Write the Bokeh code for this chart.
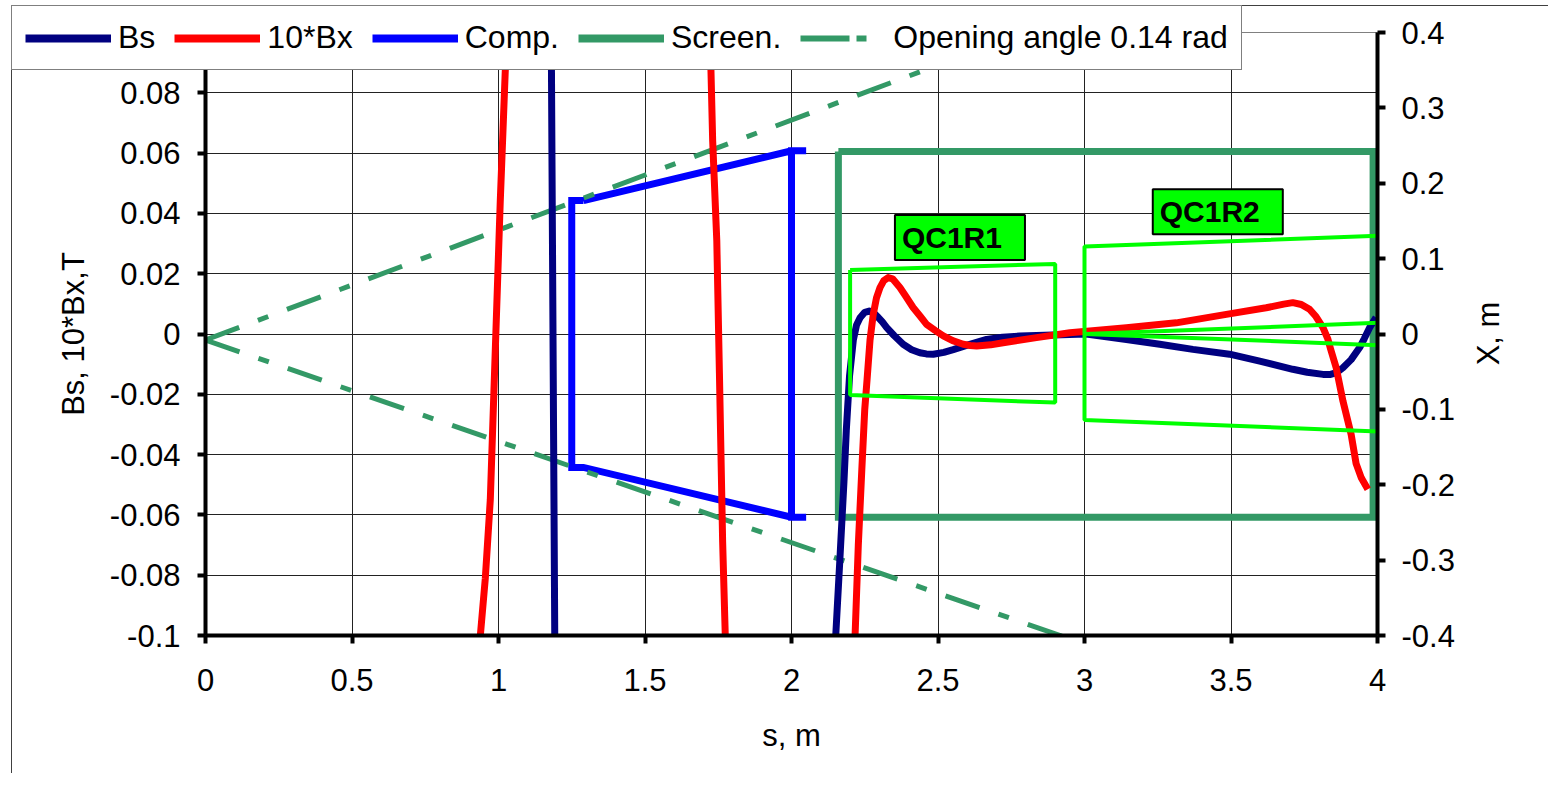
import math
from bokeh.plotting import figure
from bokeh.layouts import column
from bokeh.models import (Range1d, LinearAxis, FixedTicker, Legend, LegendItem, Label, Div)
from bokeh.embed import file_html
from bokeh.resources import INLINE

FONT = "Liberation Sans"

# ---------------- data ----------------
# Bs [T] along s [m]
bs_s = [0.0, 1.10, 1.180, 1.192, 1.27, 2.08, 2.151, 2.165, 2.179, 2.187, 2.198, 2.211,
        2.222, 2.234, 2.250, 2.265, 2.280, 2.295, 2.310, 2.325, 2.350, 2.381, 2.410,
        2.438, 2.460, 2.484, 2.520, 2.552, 2.600, 2.666, 2.720, 2.779, 2.892, 3.006,
        3.143, 3.257, 3.370, 3.495, 3.598, 3.711, 3.760, 3.814, 3.840, 3.860, 3.882,
        3.910, 3.939, 3.955, 3.973, 3.995]
bs_v = [0.30, 0.30, 0.10, -0.10, -0.30, -0.30, -0.10, -0.075, -0.049, -0.032, -0.014,
        -0.002, 0.0030, 0.0054, 0.0072, 0.0076, 0.0070, 0.0056, 0.0040, 0.0021, -0.0005,
        -0.0034, -0.0052, -0.0062, -0.0066, -0.0067, -0.0061, -0.0052, -0.0037, -0.0018,
        -0.0011, -0.0007, -0.0003, 0.0, -0.0018, -0.0034, -0.0051, -0.0067, -0.0090,
        -0.0117, -0.0127, -0.0134, -0.0134, -0.0128, -0.0112, -0.0085, -0.0045, -0.0015,
        0.0021, 0.0055]

# 10*Bx [T] along s [m]
bx_s = [0.0, 0.90, 0.938, 0.955, 0.972, 1.006, 1.023, 1.030, 1.10, 1.65, 1.722, 1.731,
        1.745, 1.754, 1.765, 1.774, 1.85, 2.15, 2.217, 2.228, 2.240, 2.250, 2.258, 2.268,
        2.279, 2.290, 2.302, 2.315, 2.330, 2.345, 2.370, 2.390, 2.415, 2.440, 2.461,
        2.490, 2.518, 2.550, 2.586, 2.610, 2.632, 2.680, 2.722, 2.836, 2.950, 3.143,
        3.313, 3.484, 3.620, 3.680, 3.711, 3.740, 3.768, 3.790, 3.814, 3.830, 3.840,
        3.859, 3.882, 3.910, 3.927, 3.945, 3.967]
bx_v = [-0.30, -0.30, -0.10, -0.081, -0.055, 0.044, 0.087, 0.10, 0.30, 0.30, 0.10, 0.064,
        0.031, -0.013, -0.069, -0.10, -0.30, -0.30, -0.10, -0.070, -0.045, -0.025, -0.015,
        -0.002, 0.0065, 0.0120, 0.0154, 0.0177, 0.0187, 0.0183, 0.0154, 0.0125, 0.0088,
        0.0058, 0.0032, 0.0012, -0.0006, -0.0022, -0.0034, -0.0038, -0.0040, -0.0036,
        -0.0029, -0.0012, 0.0004, 0.0021, 0.0037, 0.0065, 0.0087, 0.0099, 0.0104, 0.0098,
        0.0082, 0.0058, 0.0021, -0.0015, -0.0050, -0.0112, -0.0222, -0.0333, -0.0430,
        -0.0478, -0.0515]

# Compensating solenoid outline, X [m]
comp_s = [1.29, 1.25, 1.25, 1.29, 2.00, 2.05, 2.00, 2.00, 2.05, 2.00, 1.29]
comp_x = [0.177, 0.177, -0.177, -0.177, -0.243, -0.243, -0.243, 0.243, 0.243, 0.243, 0.177]

# Screen outline, X [m]
scr_s = [2.16, 3.985, 3.985, 2.16, 2.16]
scr_x = [0.242, 0.242, -0.243, -0.243, 0.242]

# Opening angle 0.14 rad lines, X [m]
open_s = [0.0, 3.2]
open_up = [-0.008, 0.459]
open_dn = [-0.008, -0.438]

# Quadrupole outlines, X [m]
qc1_s = [2.2, 2.9, 2.9, 2.2, 2.2]
qc1_x = [0.085, 0.093, -0.091, -0.081, 0.085]
qc2_s = [4.05, 3.0, 3.0, 4.05]
qc2_x = [0.131, 0.116, -0.114, -0.130]
qc2_in_s = [3.0, 4.05]
qc2_in_up = [0.0, 0.0155]
qc2_in_dn = [0.0, -0.0155]

# ticks / labels
s_ticks = [0, 0.5, 1, 1.5, 2, 2.5, 3, 3.5, 4]
s_labels = ["0", "0.5", "1", "1.5", "2", "2.5", "3", "3.5", "4"]
left_ticks = [-0.1, -0.08, -0.06, -0.04, -0.02, 0, 0.02, 0.04, 0.06, 0.08, 0.1]
left_labels = ["-0.1", "-0.08", "-0.06", "-0.04", "-0.02", "0", "0.02", "0.04", "0.06",
               "0.08", "0.1"]
right_ticks = [-0.4, -0.3, -0.2, -0.1, 0, 0.1, 0.2, 0.3, 0.4]
right_labels = ["-0.4", "-0.3", "-0.2", "-0.1", "0", "0.1", "0.2", "0.3", "0.4"]

series_names = ["Bs", "10*Bx", "Comp.", "Screen.", "Opening angle 0.14 rad"]

# series styles
STY_BS = dict(line_color="#000080", line_width=7, line_join="round")
STY_BX = dict(line_color="#FF0000", line_width=7, line_join="round")
STY_COMP = dict(line_color="#0000FF", line_width=7, line_join="miter")
STY_SCR = dict(line_color="#339966", line_width=7, line_join="miter")
STY_OPEN = dict(line_color="#339966", line_width=5, line_dash="36 20 11 20")


def no_align(fig):
    if "frame_align" in fig.properties():
        try:
            fig.frame_align = False
        except Exception:
            pass


# ---------------- main figure ----------------
p = figure(frame_width=1172, frame_height=603,
           min_border_left=205, min_border_right=171, min_border_top=32,
           min_border_bottom=138,
           x_range=Range1d(0, 4), y_range=Range1d(-0.1, 0.1),
           output_backend="svg", toolbar_location=None)
p.extra_y_ranges = {"xr": Range1d(-0.4, 0.4)}
p.background_fill_color = "white"
p.border_fill_color = "white"
p.outline_line_color = "#808080"
p.outline_line_width = 1
no_align(p)

def style_axis(ax):
    ax.axis_line_color = "black"
    ax.axis_line_width = 4
    ax.major_tick_line_color = "black"
    ax.major_tick_line_width = 4
    ax.major_tick_out = 8
    ax.major_tick_in = 0
    ax.minor_tick_line_color = None
    ax.major_label_text_font = FONT
    ax.major_label_text_font_size = "31px"
    ax.major_label_text_color = "black"
    ax.axis_label_text_font = FONT
    ax.axis_label_text_font_size = "31px"
    ax.axis_label_text_font_style = "normal"
    ax.axis_label_text_color = "black"

xax = p.xaxis[0]
yax = p.yaxis[0]
xax.ticker = FixedTicker(ticks=s_ticks)
xax.major_label_overrides = dict(zip(s_ticks, s_labels))
xax.axis_label = "s, m"
style_axis(xax)
xax.major_label_standoff = 25
xax.axis_label_standoff = 24

yax.ticker = FixedTicker(ticks=left_ticks)
yax.major_label_overrides = dict(zip(left_ticks, left_labels))
yax.axis_label = "Bs, 10*Bx,T"
style_axis(yax)
yax.major_label_standoff = 17
yax.axis_label_standoff = 16

rax = LinearAxis(y_range_name="xr", ticker=FixedTicker(ticks=right_ticks))
rax.major_label_overrides = dict(zip(right_ticks, right_labels))
style_axis(rax)
rax.major_label_standoff = 16
p.add_layout(rax, "right")

for g in (p.xgrid[0], p.ygrid[0]):
    g.grid_line_color = "#222222"
    g.grid_line_width = 1
p.xgrid[0].ticker = FixedTicker(ticks=s_ticks)
p.ygrid[0].ticker = FixedTicker(ticks=left_ticks)

p.line(comp_s, comp_x, y_range_name="xr", **STY_COMP)
p.line(scr_s, scr_x, y_range_name="xr", **STY_SCR)
p.multi_line([open_s, open_s], [open_up, open_dn], y_range_name="xr", **STY_OPEN)
p.line(bs_s, bs_v, **STY_BS)
p.line(bx_s, bx_v, **STY_BX)
p.line(qc1_s, qc1_x, y_range_name="xr", line_color="#00FF00", line_width=4)
p.multi_line([qc2_s, qc2_in_s, qc2_in_s], [qc2_x, qc2_in_up, qc2_in_dn], y_range_name="xr",
             line_color="#00FF00", line_width=4)

def qc_label(x, y, text):
    lab = Label(x=x, y=y, y_range_name="xr", text=text, text_font=FONT,
                text_font_style="bold", text_font_size="30px", text_align="left",
                text_baseline="middle", text_color="black",
                background_fill_color="#00FF00", border_line_color="black",
                border_line_width=2)
    try:
        lab.padding = dict(left=7, right=23, top=6, bottom=6)
    except Exception:
        lab.padding = 6
    p.add_layout(lab)

qc_label(2.353, 0.1281, "QC1R1")
qc_label(3.233, 0.1621, "QC1R2")

# ---------------- legend (overlay figure drawing the same series styles) ----------------
pl = figure(width=1300, height=80, min_border=0, x_range=Range1d(10, 11),
            y_range=Range1d(10, 11), x_axis_location=None, y_axis_location=None,
            output_backend="svg", toolbar_location=None)
pl.grid.visible = False
pl.outline_line_color = None
pl.background_fill_alpha = 0
pl.border_fill_alpha = 0
no_align(pl)
l_bs = pl.line(bs_s, bs_v, line_color="#000080", line_width=8)
l_bx = pl.line(bx_s, bx_v, line_color="#FF0000", line_width=8)
l_comp = pl.line(comp_s, comp_x, line_color="#0000FF", line_width=8)
l_scr = pl.line(scr_s, scr_x, line_color="#339966", line_width=8)
l_open = pl.multi_line([open_s, open_s], [open_up, open_dn], line_color="#339966",
                       line_width=6, line_dash="49 7 10 20")

legend = Legend(items=[LegendItem(label=n, renderers=[r]) for n, r in
                       zip(series_names, [l_bs, l_bx, l_comp, l_scr, l_open])],
                orientation="horizontal", location="top_left")
legend.label_text_font = FONT
legend.label_text_font_size = "32px"
legend.label_text_color = "black"
legend.glyph_width = 86
legend.glyph_height = 30
legend.label_standoff = 7
legend.spacing = 19
legend.padding = 13
legend.margin = 0
legend.border_line_color = "black"
legend.border_line_width = 1
legend.background_fill_color = "white"
legend.background_fill_alpha = 1.0
pl.add_layout(legend, "center")
pl.styles = {"position": "absolute", "left": "11px", "top": "5px", "z-index": "10"}

# ---------------- right-axis title (overlay, reads bottom-to-top) ----------------
pt = figure(width=80, height=140, min_border=0, x_range=Range1d(0, 80),
            y_range=Range1d(0, 140), x_axis_location=None, y_axis_location=None,
            output_backend="svg", toolbar_location=None)
pt.grid.visible = False
pt.outline_line_color = None
pt.background_fill_alpha = 0
pt.border_fill_alpha = 0
no_align(pt)
pt.add_layout(Label(x=40, y=70, text="X, m", angle=math.pi / 2, text_align="center",
                    text_baseline="middle", text_font=FONT, text_font_size="31px",
                    text_color="black"))
pt.styles = {"position": "absolute", "left": "1448px", "top": "263px", "z-index": "9"}

# ---------------- outer chart-area border (left and top edges) ----------------
frame_div = Div(text="", width=1537, height=768, margin=0,
                styles={"position": "absolute", "left": "11px", "top": "5px",
                        "border-left": "1px solid #404040", "border-top": "1px solid #404040",
                        "pointer-events": "none", "z-index": "5"})

layout = column(p, pl, pt, frame_div)
open("out.html", "w").write(file_html(layout, INLINE))
